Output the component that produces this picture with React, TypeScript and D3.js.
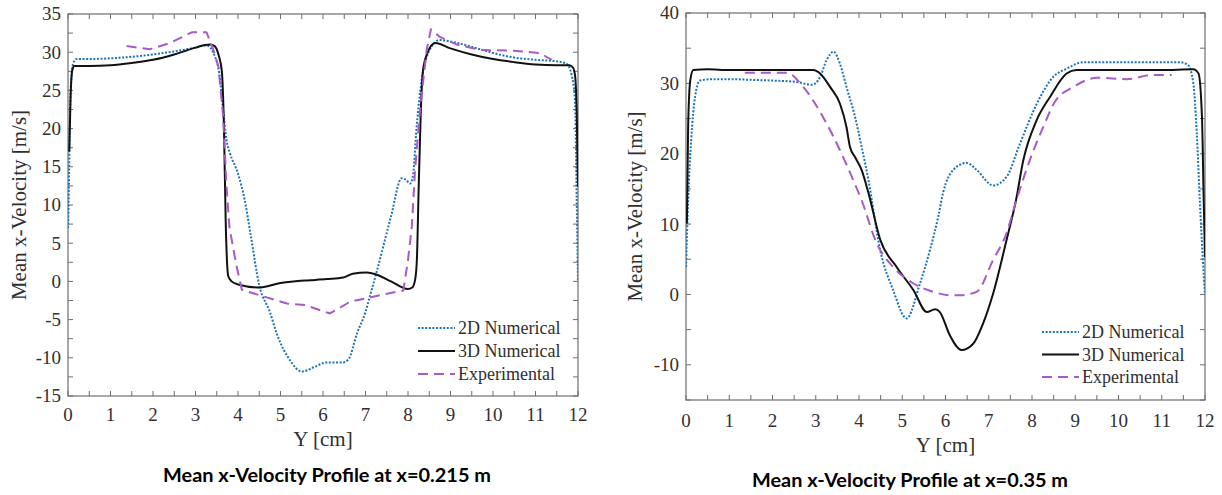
import React from 'react';
import * as d3 from 'd3';

// ---------- shared ticks ----------
const xTickLabels = [0, 1, 2, 3, 4, 5, 6, 7, 8, 9, 10, 11, 12];
const leftYTickLabels = [-15, -10, -5, 0, 5, 10, 15, 20, 25, 30, 35];
const rightYTickLabels = [-10, 0, 10, 20, 30, 40];

const seriesNames = ['2D Numerical', '3D Numerical', 'Experimental'];
const leftTitle = 'Mean x-Velocity Profile at x=0.215 m';
const rightTitle = 'Mean x-Velocity Profile at x=0.35 m';
const xAxisTitle = 'Y [cm]';
const yAxisTitle = 'Mean x-Velocity [m/s]';

// ---------- left panel (x = 0.215 m) ----------
const left2D_Y = [0, 0.02, 0.04, 0.07, 0.12, 0.2, 0.5, 1, 1.5, 2, 2.5, 3, 3.26, 3.46, 3.56, 3.65, 3.73, 3.81, 4.0, 4.16, 4.3, 4.5, 4.75, 4.91, 5.22, 5.5, 5.8, 6.09, 6.47, 6.6, 6.8, 7.0, 7.1, 7.25, 7.6, 7.85, 7.95, 8.05, 8.12, 8.2, 8.3, 8.4, 8.5, 8.75, 9, 9.5, 10, 10.5, 11, 11.5, 11.73, 11.85, 11.93, 11.97, 12];
const left2D_V = [7, 12, 20, 26, 28.5, 29.1, 29.1, 29.2, 29.4, 29.7, 30.1, 30.6, 30.9, 29.4, 27.2, 22.4, 18.5, 16.8, 14.1, 10.6, 6, -0.5, -4.0, -6.8, -10.3, -11.8, -11.2, -10.6, -10.6, -10.2, -6.8, -4.0, -2.0, 1.0, 8.5, 13.5, 13.3, 12.8, 14, 20, 25.5, 28.6, 30.2, 31.6, 31.4, 30.7, 29.9, 29.3, 29.0, 28.8, 28.5, 27, 23.7, 10.6, 0];

const left3D_Y = [0.03, 0.06, 0.1, 0.15, 0.5, 1, 1.5, 2, 2.5, 3, 3.2, 3.35, 3.45, 3.55, 3.62, 3.67, 3.71, 3.77, 3.85, 4.0, 4.52, 5.0, 5.3, 5.7, 6.09, 6.48, 6.7, 7.03, 7.3, 7.6, 8.0, 8.1, 8.17, 8.21, 8.25, 8.3, 8.35, 8.45, 8.64, 9, 9.5, 10, 10.5, 11, 11.5, 11.8, 11.88, 11.93, 11.97, 12];
const left3D_V = [17, 24, 27.6, 28.2, 28.2, 28.3, 28.6, 29.0, 29.7, 30.6, 30.9, 31.0, 30.8, 29.5, 27.5, 20, 8, 0.7, 0.0, -0.4, -0.8, -0.2, 0.0, 0.15, 0.3, 0.5, 1.0, 1.15, 0.8, 0.0, -1.0, -0.8, 0.3, 3, 12, 22, 27.5, 29.8, 31.2, 30.5, 29.7, 29.1, 28.7, 28.4, 28.3, 28.3, 28.0, 27, 22, 12.4];

const leftExp_Y = [1.38, 1.93, 2.4, 2.91, 3.26, 3.42, 3.54, 3.65, 3.73, 3.8, 3.97, 4.09, 4.5, 5.15, 5.58, 6.16, 6.64, 7.03, 7.34, 7.89, 8.0, 8.09, 8.16, 8.27, 8.35, 8.44, 8.54, 8.75, 9.15, 9.7, 10.48, 11.1, 11.38];
const leftExp_V = [30.8, 30.4, 31.2, 32.6, 32.6, 30.3, 28.1, 21.6, 12.4, 7, 1.9, -1.1, -1.8, -2.9, -3.1, -4.2, -2.65, -2.2, -1.8, -1.2, 2.8, 7.2, 14.1, 21.6, 25.9, 30.3, 33.0, 32.0, 31.0, 30.3, 30.2, 29.9, 29.0];

// ---------- right panel (x = 0.35 m) ----------
const right2D_Y = [0.0, 0.05, 0.12, 0.21, 0.32, 0.6, 1, 1.5, 2, 2.56, 2.91, 3.1, 3.25, 3.41, 3.56, 3.71, 3.91, 4.06, 4.22, 4.49, 4.79, 5.1, 5.41, 5.64, 5.83, 5.95, 6.18, 6.49, 6.72, 7.1, 7.41, 7.72, 8.11, 8.49, 8.8, 9.19, 10, 11, 11.42, 11.61, 11.73, 11.81, 11.88, 11.95, 12];
const right2D_V = [3.9, 13.4, 22, 28.1, 30.4, 30.6, 30.6, 30.5, 30.4, 30.2, 29.8, 30.9, 33.3, 34.5, 32.8, 29.5, 25.2, 21.0, 16.2, 6.3, 0.6, -3.4, 1.56, 6.3, 11.0, 14.6, 17.7, 18.7, 17.7, 15.5, 16.7, 21.4, 27.1, 30.9, 32.1, 33.0, 33.0, 33.0, 33.0, 32.6, 30.0, 22.9, 13.4, 5, 0];

const right3D_Y = [0.02, 0.05, 0.1, 0.17, 0.5, 1, 2, 2.94, 3.1, 3.33, 3.56, 3.71, 3.79, 3.91, 4.06, 4.22, 4.49, 4.87, 5.26, 5.57, 5.76, 5.87, 6.1, 6.37, 6.64, 6.87, 7.1, 7.41, 7.63, 7.8, 8.11, 8.42, 8.8, 9.03, 10, 11, 11.73, 11.85, 11.93, 11.97, 12];
const right3D_V = [10.1, 24, 30.5, 31.9, 32.0, 31.9, 31.9, 31.9, 31.4, 29.5, 27.1, 23.8, 21.0, 19.5, 17.7, 14.4, 7.8, 3.9, 0.6, -2.5, -2.1, -2.5, -5.8, -7.9, -7.0, -4.1, 0.1, 7.7, 13.4, 19.1, 24.8, 28.1, 31.4, 31.9, 31.9, 31.9, 32.0, 31.4, 25.2, 13.4, 5.3];

const rightExp_Y = [1.36, 2.33, 2.71, 3.17, 3.56, 3.87, 4.06, 4.41, 4.79, 5.26, 5.72, 6.1, 6.34, 6.72, 7.1, 7.41, 7.64, 7.95, 8.26, 8.53, 8.96, 9.5, 10.19, 10.8, 11.23];
const rightExp_V = [31.5, 31.5, 29.5, 25.2, 20.5, 16.2, 13.4, 7.25, 3.9, 1.56, 0.37, -0.1, -0.1, 0.37, 4.9, 8.7, 13.4, 19.1, 23.8, 27.4, 29.5, 30.8, 30.6, 31.2, 31.2];

const zip = (xs: number[], vs: number[]) => xs.map((x, i) => [x, vs[i]] as [number, number]);

const BLUE = '#1b73b9';
const BLACK = '#111111';
const PURPLE = '#a65bc6';
const AXIS = '#6e6e6e';
const TEXT = '#303030';
const SERIF = '"Liberation Serif", "Times New Roman", serif';

type SeriesDef = { data: [number, number][]; color: string; dash: string; width: number; curve: any };

type PanelProps = {
  x0: number; x1: number; y0: number; y1: number;
  yDomain: [number, number]; yLabels: number[]; yMinorStep: number;
  series: SeriesDef[];
  legendX: number; legendY: number; legendGap: number;
  yTitleX: number; xTitleY: number; xTickY: number;
  title: string; titleX: number; titleY: number; titleW: number;
};

function Panel(p: PanelProps) {
  const xs = d3.scaleLinear().domain([0, 12]).range([p.x0, p.x1]);
  const ys = d3.scaleLinear().domain(p.yDomain).range([p.y1, p.y0]);
  const xMinor = d3.range(0, 12.0001, 0.5);
  const yMinor = d3.range(p.yDomain[0], p.yDomain[1] + 0.0001, p.yMinorStep);
  const tl = 5;
  return (
    <g>
      <defs>
        <clipPath id={`clip-${p.x0}`}>
          <rect x={p.x0} y={p.y0} width={p.x1 - p.x0} height={p.y1 - p.y0} />
        </clipPath>
      </defs>
      {xMinor.map((v) => (
        <g key={'xt' + v} stroke={AXIS} strokeWidth={1}>
          <line x1={xs(v)} x2={xs(v)} y1={p.y1} y2={p.y1 - tl} />
          <line x1={xs(v)} x2={xs(v)} y1={p.y0} y2={p.y0 + tl} />
        </g>
      ))}
      {yMinor.map((v) => (
        <g key={'yt' + v} stroke={AXIS} strokeWidth={1}>
          <line x1={p.x0} x2={p.x0 + tl} y1={ys(v)} y2={ys(v)} />
          <line x1={p.x1} x2={p.x1 - tl} y1={ys(v)} y2={ys(v)} />
        </g>
      ))}
      <rect x={p.x0} y={p.y0} width={p.x1 - p.x0} height={p.y1 - p.y0} fill="none" stroke={AXIS} strokeWidth={1.2} />
      {xTickLabels.map((v) => (
        <text key={'xl' + v} x={xs(v)} y={p.xTickY} textAnchor="middle" fontFamily={SERIF} fontSize={19} fill={TEXT}>{v}</text>
      ))}
      {p.yLabels.map((v) => (
        <text key={'yl' + v} x={p.x0 - 7} y={ys(v)} dy="0.34em" textAnchor="end" fontFamily={SERIF} fontSize={19} fill={TEXT}>{v}</text>
      ))}
      <text x={(p.x0 + p.x1) / 2} y={p.xTitleY} textAnchor="middle" fontFamily={SERIF} fontSize={21} fill={TEXT}>{xAxisTitle}</text>
      <text transform={`translate(${p.yTitleX},${(p.y0 + p.y1) / 2}) rotate(-90)`} textAnchor="middle" fontFamily={SERIF} fontSize={21} fill={TEXT}>{yAxisTitle}</text>
      <g clipPath={`url(#clip-${p.x0})`}>
        {p.series.map((s, i) => {
          const line = d3.line<[number, number]>().x((d) => xs(d[0])).y((d) => ys(d[1])).curve(s.curve);
          return <path key={i} d={line(s.data) || ''} fill="none" stroke={s.color} strokeWidth={s.width} strokeDasharray={s.dash} strokeLinejoin="round" />;
        })}
      </g>
      {p.series.map((s, i) => {
        const cy = p.legendY + i * p.legendGap;
        return (
          <g key={'lg' + i}>
            <line x1={p.legendX} x2={p.legendX + 37} y1={cy} y2={cy} stroke={s.color} strokeWidth={s.width} strokeDasharray={s.dash} />
            <text x={p.legendX + 40} y={cy} dy="0.34em" fontFamily={SERIF} fontSize={18} fill={TEXT}>{seriesNames[i]}</text>
          </g>
        );
      })}
      <text x={p.titleX} y={p.titleY} textAnchor="middle" fontFamily='Lato, "Open Sans", sans-serif' fontWeight={700} fontSize={18} fill="#000" textLength={p.titleW} lengthAdjust="spacingAndGlyphs">{p.title}</text>
    </g>
  );
}

export default function App() {
  const leftSeries: SeriesDef[] = [
    { data: zip(left2D_Y, left2D_V), color: BLUE, dash: '2 1.6', width: 2, curve: d3.curveMonotoneX },
    { data: zip(left3D_Y, left3D_V), color: BLACK, dash: '', width: 2, curve: d3.curveMonotoneX },
    { data: zip(leftExp_Y, leftExp_V), color: PURPLE, dash: '10 6', width: 2, curve: d3.curveLinear },
  ];
  const rightSeries: SeriesDef[] = [
    { data: zip(right2D_Y, right2D_V), color: BLUE, dash: '2 1.6', width: 2, curve: d3.curveMonotoneX },
    { data: zip(right3D_Y, right3D_V), color: BLACK, dash: '', width: 2, curve: d3.curveMonotoneX },
    { data: zip(rightExp_Y, rightExp_V), color: PURPLE, dash: '10 6', width: 2, curve: d3.curveMonotoneX },
  ];
  return (
    <svg width={1222} height={495} style={{ position: 'absolute', left: 0, top: 0, background: '#fff' }}>
      <rect width={1222} height={495} fill="#fff" />
      <Panel x0={68} x1={578} y0={14} y1={396} yDomain={[-15, 35]} yLabels={leftYTickLabels} yMinorStep={2.5}
        series={leftSeries} legendX={418} legendY={328} legendGap={23}
        yTitleX={26} xTitleY={446} xTickY={421}
        title={leftTitle} titleX={327} titleY={482} titleW={328} />
      <Panel x0={686} x1={1205} y0={13} y1={400} yDomain={[-15, 40]} yLabels={rightYTickLabels} yMinorStep={5}
        series={rightSeries} legendX={1042} legendY={332} legendGap={22.5}
        yTitleX={642} xTitleY={452} xTickY={427}
        title={rightTitle} titleX={910} titleY={487} titleW={316} />
    </svg>
  );
}
